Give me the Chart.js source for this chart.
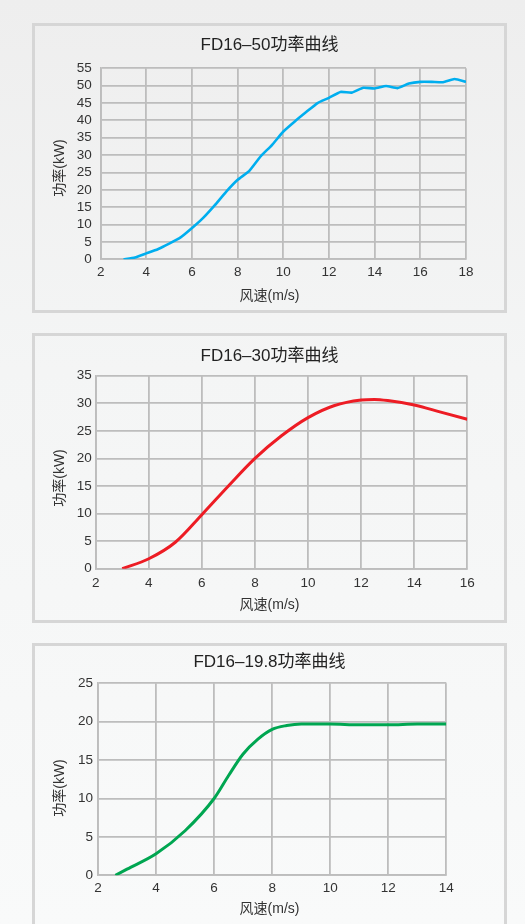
<!DOCTYPE html>
<html>
<head>
<meta charset="utf-8">
<script src="https://cdn.jsdelivr.net/npm/chart.js@4/dist/chart.umd.min.js"></script>
<style>
	html, body { margin: 0; padding: 0; }
	body {
		width: 525px; height: 924px; overflow: hidden; position: relative;
		background: linear-gradient(#eeeeee, #f4f5f5 40%, #f9fafa);
	}
	.panel {
		position: absolute; left: 32px; width: 475px; height: 290px;
		box-sizing: border-box; border: 3px solid #d6d6d6;
	}
	.panel canvas { display: block; }
</style>
</head>
<body>
<div class="panel" style="top:23px"><canvas id="c50" width="469" height="284"></canvas></div>
<div class="panel" style="top:333px"><canvas id="c30" width="469" height="284"></canvas></div>
<div class="panel" style="top:643px"><canvas id="c198" width="469" height="284"></canvas></div>
<script>
// FD16-50
var speed50 = [3, 3.5, 4, 4.5, 5, 5.5, 6, 6.5, 7, 7.5, 8, 8.5, 9, 9.5, 10, 10.5, 11, 11.5, 12, 12.5, 13, 13.5, 14, 14.5, 15, 15.5, 16, 16.5, 17, 17.5, 18];
var power50 = [0, 0.5, 1.7, 2.9, 4.5, 6.3, 9.0, 12.0, 15.6, 19.5, 22.9, 25.4, 29.6, 32.9, 36.8, 39.7, 42.4, 45.0, 46.5, 48.2, 48.0, 49.4, 49.2, 49.9, 49.3, 50.6, 51.1, 51.1, 51.0, 51.9, 51.1];
// FD16-30
var speed30 = [3, 4, 5, 6, 7, 8, 9, 10, 11, 12, 12.5, 13, 14, 15, 16];
var power30 = [0, 1.8, 4.8, 9.8, 15.0, 20.0, 24.1, 27.4, 29.6, 30.6, 30.7, 30.5, 29.7, 28.4, 27.1];
// FD16-19.8
var speed198 = [2.6, 3, 4, 5, 6, 6.5, 7, 7.5, 8, 8.5, 9, 10, 11, 12, 13, 14];
var power198 = [0, 0.8, 2.8, 5.8, 10.0, 13.0, 15.8, 17.7, 19.0, 19.5, 19.7, 19.7, 19.6, 19.6, 19.7, 19.7];

var titles = ['FD16–50功率曲线', 'FD16–30功率曲线', 'FD16–19.8功率曲线'];
var xLabel = '风速(m/s)';
var yLabel = '功率(kW)';

var FONT = '"Liberation Sans", "Noto Sans CJK SC", Arial, sans-serif';
Chart.defaults.font.family = FONT;
Chart.defaults.color = '#333';

// draws the rotated y label centred on the panel, like the original
var yLabelPlugin = {
	id: 'yLabel',
	afterDraw: function(chart, args, opts) {
		var ctx = chart.ctx;
		ctx.save();
		ctx.translate(opts.x, chart.height / 2);
		ctx.rotate(-Math.PI / 2);
		ctx.font = '14px ' + FONT;
		ctx.fillStyle = '#333';
		ctx.textAlign = 'center';
		ctx.textBaseline = 'middle';
		ctx.fillText(opts.text, 0, 0);
		ctx.restore();
	}
};

function makeChart(id, title, xs, ys, color, lw, smooth, o) {
	var pts = [];
	for (var i in xs) {
		pts.push({x: xs[i], y: ys[i]});
	}
	return new Chart(document.getElementById(id), {
		type: 'line',
		data: {
			datasets: [{
				data: pts,
				yAxisID: 'y',
				borderColor: color,
				borderWidth: lw,
				pointRadius: 0,
				fill: false,
				tension: smooth ? 0.4 : 0.15,
				cubicInterpolationMode: smooth ? 'monotone' : 'default'
			}]
		},
		plugins: [yLabelPlugin],
		options: {
			responsive: false,
			animation: false,
			layout: { padding: 0 },
			plugins: {
				legend: { display: false },
				tooltip: { enabled: false },
				title: {
					display: true, text: title, color: '#222',
					font: { size: 17, weight: 'normal' },
					padding: { top: o.tTop, bottom: o.tBot }
				},
				subtitle: {
					display: true, text: xLabel, position: 'bottom', color: '#333',
					font: { size: 14, lineHeight: 1 },
					padding: { top: o.sTop, bottom: o.sBot }
				},
				yLabel: { text: yLabel, x: 25 }
			},
			scales: {
				x: {
					type: 'linear', min: o.xMin, max: o.xMax,
					ticks: { stepSize: 2, padding: o.xPad, font: { size: 13.5 }, color: '#333' },
					grid: { color: '#bdbdbd', lineWidth: 1.8, drawTicks: false },
					border: { color: '#bdbdbd', width: 1.8 }
				},
				y: {
					min: 0, max: o.yMax,
					afterFit: function(scale) { scale.width = o.left; },
					ticks: { stepSize: 5, autoSkip: false, padding: o.yPad, font: { size: 13.5 }, color: '#333' },
					grid: { color: '#bdbdbd', lineWidth: 1.8, drawTicks: false },
					border: { color: '#bdbdbd', width: 1.8 }
				},
				// empty axis, only keeps the right margin so the titles stay centred
				yR: {
					position: 'right',
					afterFit: function(scale) { scale.width = o.right; },
					ticks: { display: false },
					grid: { display: false },
					border: { display: false }
				}
			}
		}
	});
}

makeChart('c50', titles[0], speed50, power50, '#00aeef', 2.6, false,
	{left: 65.7, right: 38, yPad: 9, xPad: 5.3, tTop: 8.8, tBot: 13.1, sTop: 2.9, sBot: 7, xMin: 2, xMax: 18, yMax: 55});
makeChart('c30', titles[1], speed30, power30, '#ed1c24', 3, true,
	{left: 60.7, right: 36.7, yPad: 4, xPad: 6.5, tTop: 10.5, tBot: 8.8, sTop: 0.4, sBot: 7.7, xMin: 2, xMax: 16, yMax: 35});
makeChart('c198', titles[2], speed198, power198, '#00a651', 3, true,
	{left: 63, right: 57.7, yPad: 5, xPad: 4.9, tTop: 6.5, tBot: 10.4, sTop: 1, sBot: 13.7, xMin: 2, xMax: 14, yMax: 25});
</script>
</body>
</html>
